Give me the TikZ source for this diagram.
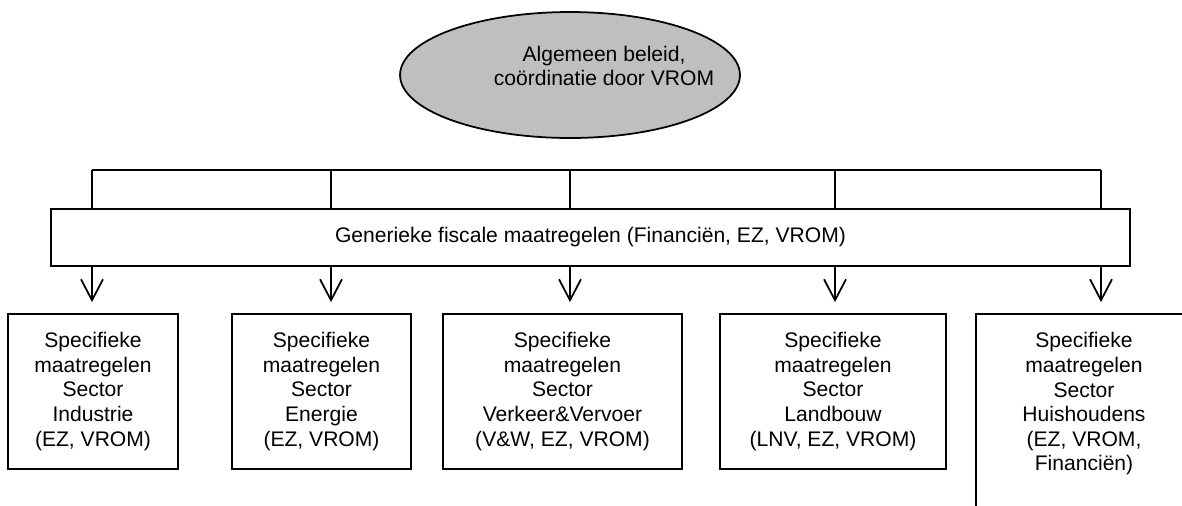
\documentclass[tikz,border=0pt]{standalone}
\usepackage{fontspec}
\setmainfont{Liberation Sans}
\usepackage{tikz}
\usetikzlibrary{positioning}
\usetikzlibrary{shapes,arrows,calc,arrows.meta}

\begin{document}
\begin{tikzpicture}[x=0.02cm, y=-0.02cm, line width=1pt,
    every node/.style={font=\fontsize{12pt}{14pt}\selectfont, align=center, inner sep=0pt},
    sectorbox/.style={draw, rectangle, minimum height=3.1cm},
    arr/.style={-{Straight Barb[length=0.42cm,width=0.44cm]}, shorten >=0.22cm}]
    \useasboundingbox (0,0) rectangle (1182,505);
    \clip (0,0) rectangle (1182,505);

    % Nodes
    \node [draw, ellipse, fill=black!25, minimum width=6.8cm, minimum height=2.52cm] (beleid) at (570,75) {};
    \node (beleidtekst) at (604,66) {Algemeen beleid,\\co\"ordinatie door VROM};
    \node [draw, rectangle, minimum width=21.58cm, minimum height=1.14cm] (fiscaal) at (590.5,237.5) {Generieke fiscale maatregelen (Financi\"en, EZ, VROM)};
    \node [sectorbox, minimum width=3.4cm] (sector1) at (93,391.5) {Specifieke\\maatregelen\\Sector\\Industrie\\(EZ, VROM)};
    \node [sectorbox, minimum width=3.58cm] (sector2) at (321.5,391.5) {Specifieke\\maatregelen\\Sector\\Energie\\(EZ, VROM)};
    \node [sectorbox, minimum width=4.78cm] (sector3) at (562.5,391.5) {Specifieke\\maatregelen\\Sector\\Verkeer\&Vervoer\\(V\&W, EZ, VROM)};
    \node [sectorbox, minimum width=4.52cm] (sector4) at (833,391.5) {Specifieke\\maatregelen\\Sector\\Landbouw\\(LNV, EZ, VROM)};
    \node [sectorbox, minimum width=4.32cm, minimum height=4.8cm] (sector5) at (1084,434) {};
    \node [below=0.37cm of sector5.north] (sector5tekst) {Specifieke\\maatregelen\\Sector\\Huishoudens\\(EZ, VROM,\\Financi\"en)};

    % Lines
    \coordinate (t1) at (92,170);
    \coordinate (t2) at (331,170);
    \coordinate (t3) at (570,170);
    \coordinate (t4) at (835,170);
    \coordinate (t5) at (1101,170);
    \draw (t1) -- (t5);
    \foreach \i in {1,...,5}
        \draw (t\i) -- (t\i |- fiscaal.north);

    % Arrows
    \foreach \i in {1,...,5}
        \draw [arr] (t\i |- fiscaal.south) -- (t\i |- sector\i.north);
\end{tikzpicture}
\end{document}
